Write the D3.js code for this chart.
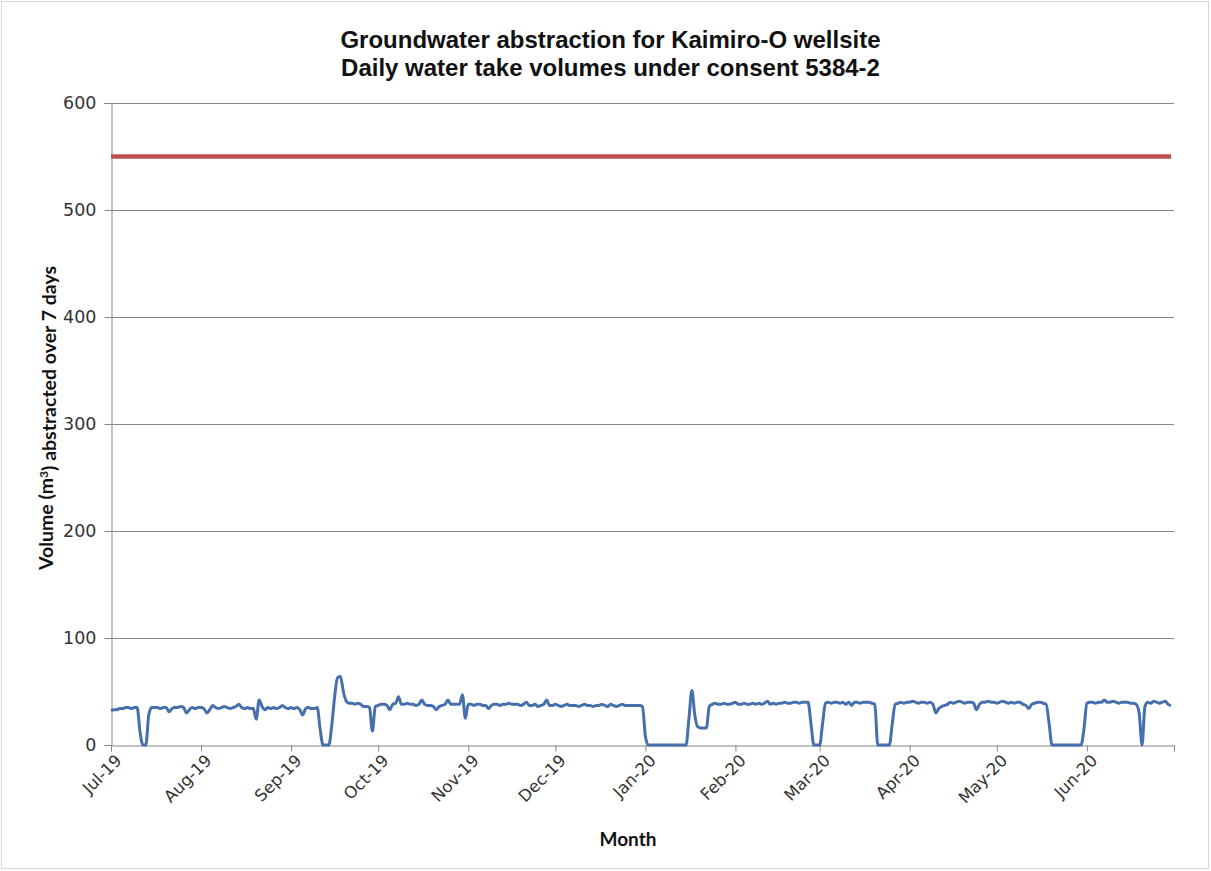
<!DOCTYPE html>
<html>
<head>
<meta charset="utf-8">
<script src="https://cdn.jsdelivr.net/npm/d3@7"></script>
<style>
	body { margin: 0; background: #fff; }
	svg { display: block; }
</style>
</head>
<body>
<script>
const titleLines = ["Groundwater abstraction for Kaimiro-O wellsite", "Daily water take volumes under consent 5384-2"];
const yLabel = "abstracted over 7 days";
const xLabel = "Month";

const monthLabels = ["Jul-19", "Aug-19", "Sep-19", "Oct-19", "Nov-19", "Dec-19",
	"Jan-20", "Feb-20", "Mar-20", "Apr-20", "May-20", "Jun-20"];
const yTicks = [0, 100, 200, 300, 400, 500, 600];

const consentLimit = 550;
const startDate = new Date(2019, 6, 1);

// daily volumes, 1 Jul 2019 .. 30 Jun 2020
const volumes = [
	32, 33, 33, 34, 34, 35, 35, 34, 35, 35,
	12, 0, 0, 28, 35, 35, 35, 34, 35, 35,
	31, 34, 35, 35, 36, 35, 30, 33, 35, 34,
	35, 35, 34, 30, 33, 37, 35, 34, 35, 36,
	35, 34, 35, 36, 38, 35, 34, 35, 34, 34,
	24, 42, 36, 33, 35, 34, 35, 34, 35, 37,
	35, 34, 35, 34, 35, 33, 28, 34, 35, 34,
	34, 35, 15, 0, 0, 0, 18, 45, 63, 64,
	50, 41, 39, 39, 38, 39, 38, 36, 36, 35,
	13, 36, 37, 38, 38, 37, 33, 38, 39, 45,
	38, 38, 39, 38, 38, 37, 38, 42, 38, 37,
	37, 36, 33, 36, 37, 38, 42, 38, 38, 38,
	38, 47, 25, 38, 38, 37, 38, 38, 37, 37,
	34, 37, 38, 38, 37, 38, 38, 39, 38, 38,
	38, 37, 38, 40, 37, 37, 38, 36, 37, 38,
	42, 37, 37, 38, 37, 36, 37, 38, 37, 37,
	37, 36, 37, 38, 37, 37, 36, 37, 37, 38,
	37, 36, 38, 37, 36, 37, 38, 37, 37, 37,
	37, 37, 37, 36, 8, 0, 0, 0, 0, 0,
	0, 0, 0, 0, 0, 0, 0, 0, 0, 25,
	51, 28, 17, 16, 16, 16, 36, 38, 39, 38,
	38, 39, 38, 38, 39, 40, 38, 38, 39, 38,
	38, 39, 38, 39, 38, 39, 41, 38, 39, 38,
	39, 39, 40, 39, 39, 40, 40, 39, 40, 40,
	40, 20, 0, 0, 0, 20, 39, 40, 39, 40,
	40, 39, 40, 38, 40, 37, 40, 40, 39, 40,
	40, 40, 39, 38, 0, 0, 0, 0, 0, 20,
	38, 39, 40, 39, 40, 40, 41, 40, 39, 40,
	40, 39, 40, 38, 30, 34, 36, 37, 38, 40,
	39, 40, 41, 40, 39, 40, 40, 39, 33, 38,
	40, 40, 41, 40, 40, 39, 40, 41, 40, 39,
	40, 39, 40, 40, 38, 37, 34, 38, 39, 40,
	40, 39, 38, 20, 0, 0, 0, 0, 0, 0,
	0, 0, 0, 0, 0, 15, 39, 40, 40, 39,
	40, 40, 42, 40, 40, 41, 40, 39, 40, 40,
	40, 39, 39, 38, 30, 0, 36, 40, 39, 41,
	40, 39, 40, 41, 38, 37
];

const width = 1211, height = 871;
const margin = ({ top: 103, right: 37, bottom: 126, left: 111 });

const data = volumes.map((v, i) => ({ date: d3.timeDay.offset(startDate, i), value: v }));
const months = monthLabels.map((m, i) => d3.timeMonth.offset(startDate, i));
const endDate = d3.timeMonth.offset(startDate, monthLabels.length);

const x = d3.scaleTime()
	.domain([startDate, endDate])
	.range([margin.left, width - margin.right]);

const y = d3.scaleLinear()
	.domain([0, 600])
	.range([height - margin.bottom, margin.top]);

const svg = d3.select("body").append("svg")
	.attr("width", width)
	.attr("height", height);

svg.append("rect")
	.attr("x", 1.5)
	.attr("y", 1.5)
	.attr("width", width - 4)
	.attr("height", height - 4)
	.attr("fill", "#fff")
	.attr("stroke", "#d9d9d9");

// gridlines
svg.append("g")
	.selectAll("line")
	.data(yTicks.filter(d => d > 0))
	.enter()
	.append("line")
	.attr("stroke", "#868686")
	.attr("x1", margin.left)
	.attr("x2", width - margin.right)
	.attr("y1", d => Math.round(y(d)) + 0.5)
	.attr("y2", d => Math.round(y(d)) + 0.5);

const yAxis = g => g
	.attr("transform", `translate(${margin.left + 0.5},0)`)
	.call(d3.axisLeft(y).tickValues(yTicks).tickSize(7).tickPadding(8))
	.call(g => g.selectAll("line, path").attr("stroke", "#868686"))
	.call(g => g.selectAll("text")
		.attr("font-family", "'DejaVu Sans', sans-serif")
		.attr("font-size", 17.5)
		.attr("fill", "#333"));

const xAxis = g => g
	.attr("transform", `translate(0,${height - margin.bottom + 0.5})`)
	.call(d3.axisBottom(x).tickValues([...months, endDate]).tickSize(6)
		.tickFormat((d, i) => monthLabels[i] || ""))
	.call(g => g.selectAll("line, path").attr("stroke", "#868686"))
	.call(g => g.selectAll("text")
		.attr("font-family", "'DejaVu Sans', sans-serif")
		.attr("font-size", 16.5)
		.attr("fill", "#333")
		.attr("text-anchor", "end")
		.attr("y", 0)
		.attr("dy", "0.35em")
		.attr("transform", "translate(7,12) rotate(-45)"));

svg.append("g").call(yAxis);
svg.append("g").call(xAxis);

// consent limit
svg.append("line")
	.attr("stroke", "#c0504d")
	.attr("stroke-width", 4.5)
	.attr("x1", x(data[0].date))
	.attr("x2", x(data[data.length - 1].date))
	.attr("y1", y(consentLimit))
	.attr("y2", y(consentLimit));

const line = d3.line()
	.x(d => x(d.date))
	.y(d => y(d.value))
	.curve(d3.curveMonotoneX);

svg.append("path")
	.datum(data)
	.attr("fill", "none")
	.attr("stroke", "#4670ad")
	.attr("stroke-width", 3)
	.attr("stroke-linejoin", "round")
	.attr("d", line);

svg.append("g")
	.attr("font-family", "'Liberation Sans', Arial, sans-serif")
	.attr("font-weight", "bold")
	.attr("font-size", 24)
	.attr("text-anchor", "middle")
	.attr("fill", "#111")
	.selectAll("text")
	.data(titleLines)
	.enter()
	.append("text")
	.attr("x", width / 2 + 5)
	.attr("y", (d, i) => 48 + i * 28)
	.text(d => d);

const yl = svg.append("text")
	.attr("transform", "rotate(-90)")
	.attr("x", -(margin.top + (height - margin.bottom - margin.top) / 2) + 6)
	.attr("y", 53)
	.attr("text-anchor", "middle")
	.attr("font-family", "Lato, sans-serif")
	.attr("font-weight", "bold")
	.attr("font-size", 19.5)
	.attr("fill", "#111");
yl.append("tspan").text("Volume (m");
yl.append("tspan").attr("dy", "-0.45em").attr("font-size", 12).text("3");
yl.append("tspan").attr("dy", "0.45em").text(") " + yLabel);

svg.append("text")
	.attr("x", 628)
	.attr("y", 846)
	.attr("text-anchor", "middle")
	.attr("font-family", "Lato, sans-serif")
	.attr("font-weight", "bold")
	.attr("font-size", 19)
	.attr("fill", "#111")
	.text(xLabel);
</script>
</body>
</html>
